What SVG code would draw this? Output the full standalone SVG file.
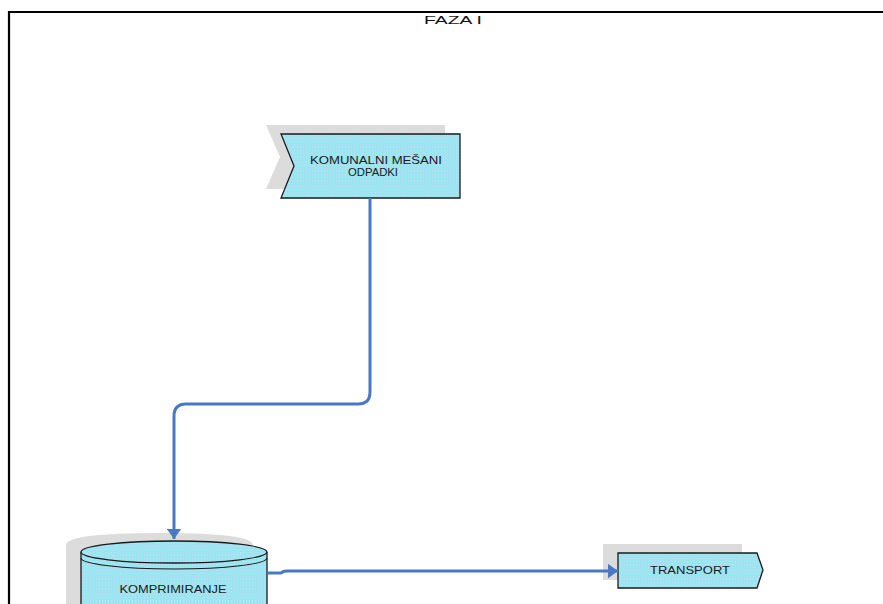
<svg xmlns="http://www.w3.org/2000/svg" width="883" height="604" viewBox="0 0 883 604">
  <defs>
    <pattern id="dots" width="3" height="3" patternUnits="userSpaceOnUse">
      <rect width="3" height="3" fill="#98e4f1"/>
      <rect x="0" y="0" width="1" height="1" fill="#c8dff0"/>
      <rect x="1.5" y="1.5" width="1" height="1" fill="#b2e6f4"/>
    </pattern>
    <marker id="arrow" viewBox="0 0 7 10" refX="7" refY="5" markerWidth="3.5" markerHeight="5" orient="auto" markerUnits="strokeWidth">
      <path d="M0,0 L7,5 L0,10 Z" fill="#4a78c4"/>
    </marker>
  </defs>
  <style>
    .shadow { fill: #dcdcdc; stroke: none; }
    .shape { fill: url(#dots); stroke: #1a1a1a; stroke-width: 1.3; }
    .label { font-family: "Liberation Sans", Arial, sans-serif; font-size: 10.5px; fill: #1a1a1a; text-anchor: middle; }
    .conn { fill: none; stroke: #4a78c4; stroke-width: 3; }
    .frame { fill: none; stroke: #000; stroke-width: 2.2; }
  </style>

  <!-- page frame and title -->
  <g id="frame">
    <path class="frame" d="M9,604 V12 H883"/>
    <text x="453" y="24" font-family="'Liberation Sans', Arial, sans-serif" font-size="11.5" text-anchor="middle" fill="#111" textLength="58" lengthAdjust="spacingAndGlyphs">FAZA I</text>
  </g>

  <!-- source: waste input -->
  <g id="node-odpadki">
    <path class="shadow" d="M266,125 H445 V189 H266 L280,157 Z"/>
    <path class="shape" d="M281,134 H460 V198 H281 L294,166 Z"/>
    <text class="label" x="376" y="164" textLength="132" lengthAdjust="spacingAndGlyphs">KOMUNALNI MEŠANI</text>
    <text class="label" x="373" y="176" textLength="50" lengthAdjust="spacingAndGlyphs">ODPADKI</text>
  </g>

  <!-- compaction store -->
  <g id="node-komprimiranje">
    <path class="shadow" d="M66,545 Q66,533 160,533 Q253,533 253,545 V604 H66 Z"/>
    <path class="shape" d="M81,552 A93,11 0 0 1 267,552 V606 H81 Z"/>
    <path class="shape" fill="none" d="M81,552 A93,11 0 0 0 267,552"/>
    <path fill="none" stroke="#1a1a1a" stroke-width="1.1" d="M81,558 A93,11 0 0 0 267,558"/>
    <text class="label" x="173" y="593" textLength="107" lengthAdjust="spacingAndGlyphs">KOMPRIMIRANJE</text>
  </g>

  <!-- transport -->
  <g id="node-transport">
    <path class="shadow" d="M603,544 H742 V580 H603 Z"/>
    <path class="shape" d="M618,553 H757 L763,570 L757,588 H618 Z"/>
    <text class="label" x="690" y="574" textLength="80" lengthAdjust="spacingAndGlyphs">TRANSPORT</text>
  </g>

  <!-- connectors, drawn on top of the shadows -->
  <g id="connectors">
    <path class="conn" d="M370,198 V392 Q370,404 358,404 H186 Q174,404 174,416 V539" marker-end="url(#arrow)"/>
    <path class="conn" d="M267,573 H281 Q283,571 287,571 H618" marker-end="url(#arrow)" stroke-width="2"/>
  </g>
</svg>
